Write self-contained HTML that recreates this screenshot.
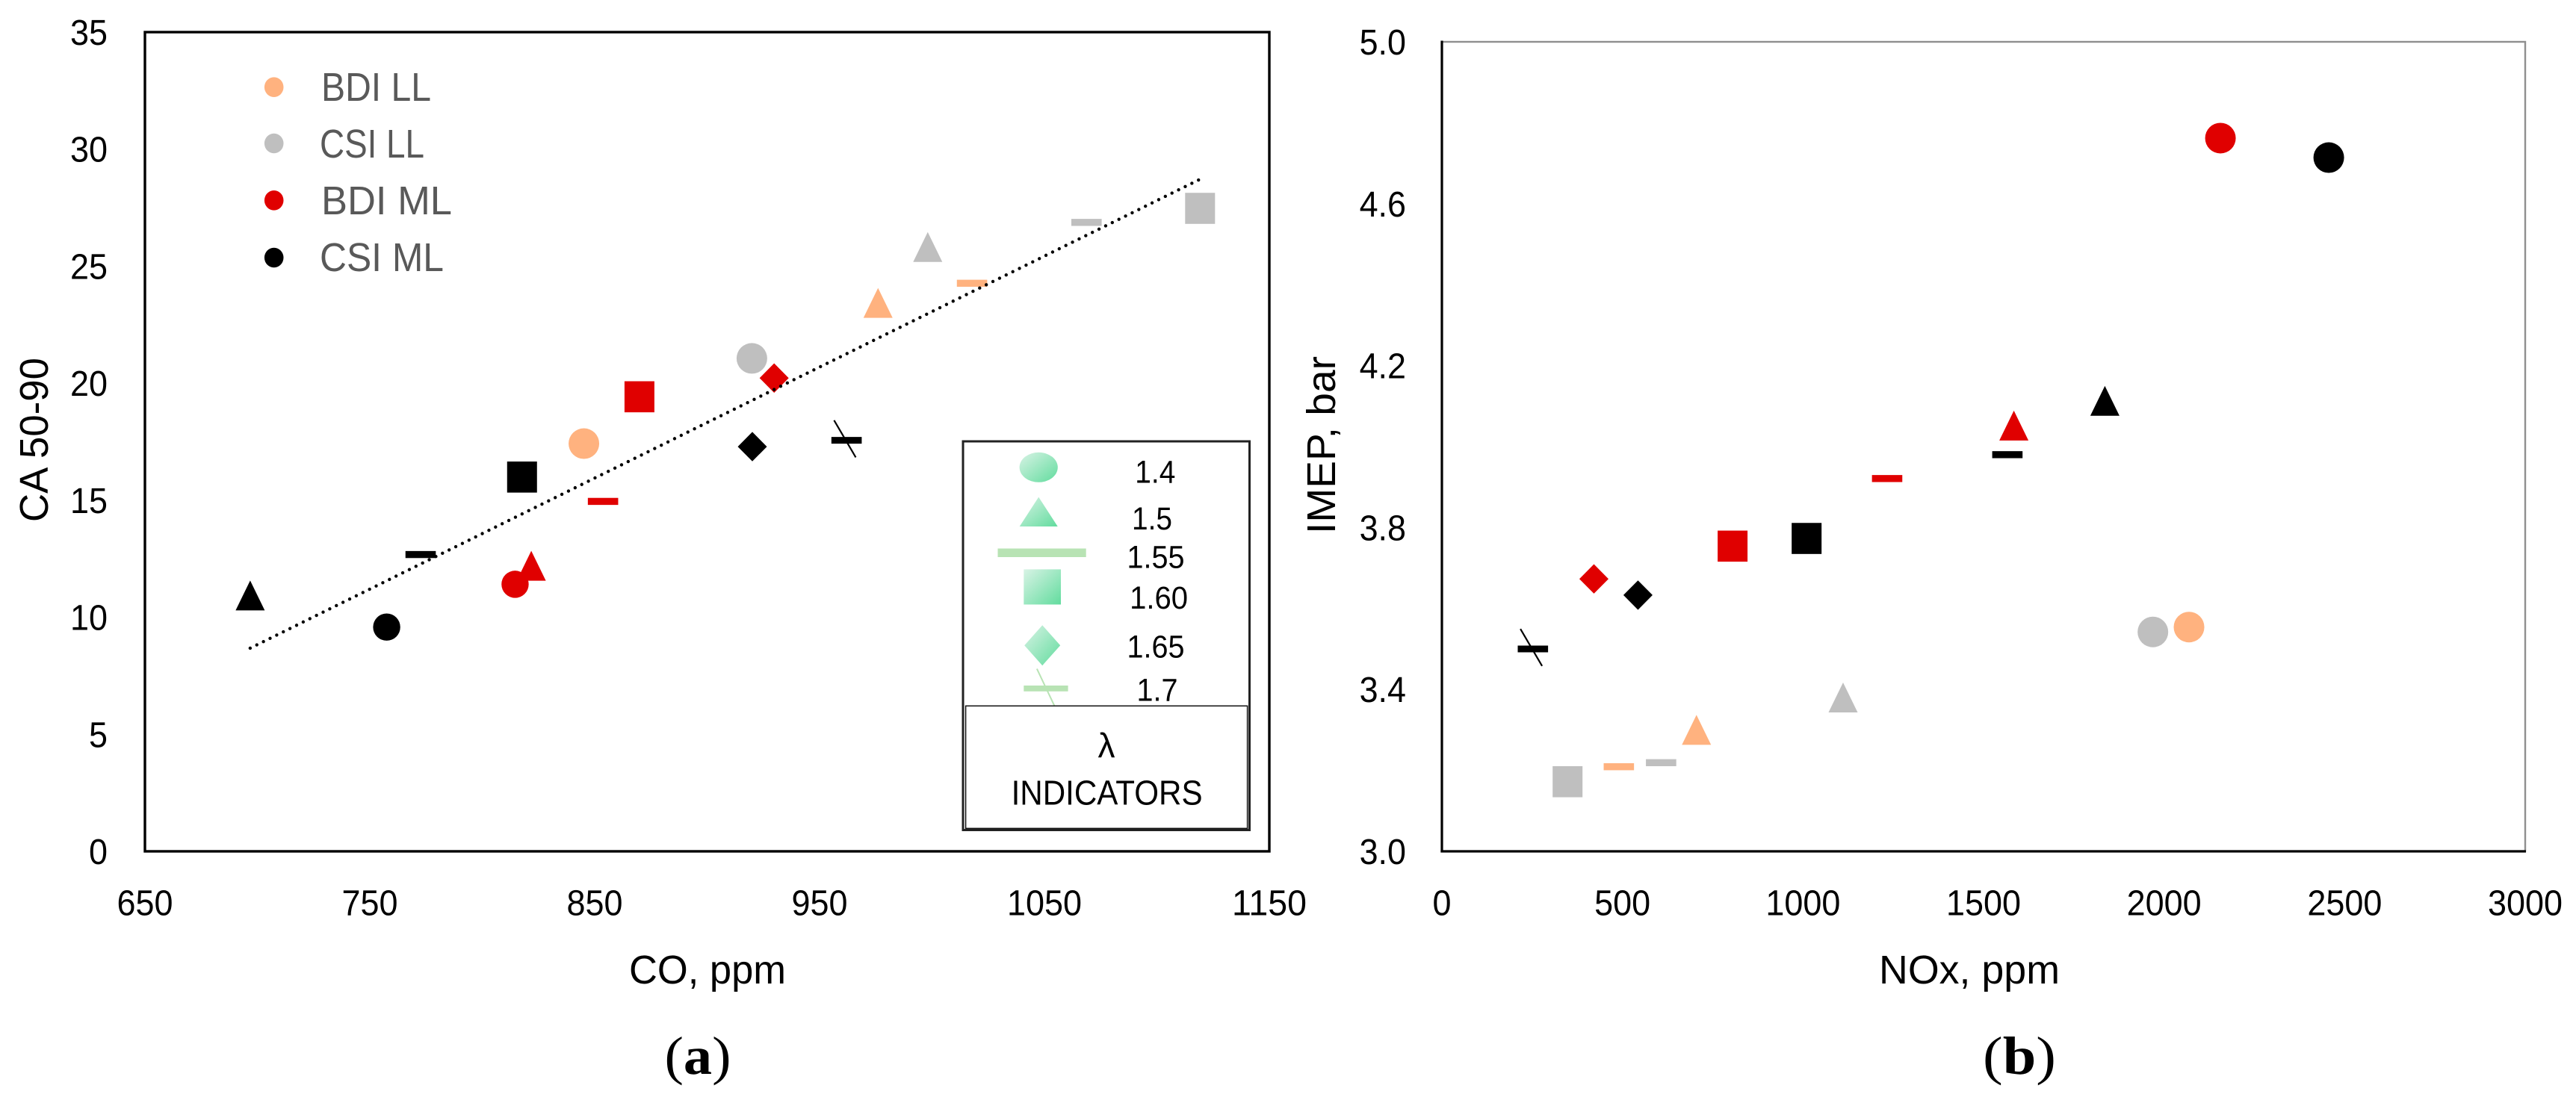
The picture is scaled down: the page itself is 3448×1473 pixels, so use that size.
<!DOCTYPE html>
<html lang="en">
<head>
<meta charset="utf-8">
<title>CA 50-90 vs CO and IMEP vs NOx</title>
<style>
html,body{margin:0;padding:0;background:#fff;}
svg{display:block;}
text{font-family:"Liberation Sans",sans-serif;fill:#000;}
.serif{font-family:"Liberation Serif",serif;}
</style>
</head>
<body>
<svg id="figure" xmlns="http://www.w3.org/2000/svg" width="3448" height="1473" viewBox="0 0 3448 1473">
  <defs>
    <linearGradient id="mint" x1="0" y1="0" x2="1" y2="1">
      <stop offset="0" stop-color="#d8f3e5"/>
      <stop offset="1" stop-color="#62dc9e"/>
    </linearGradient>
  </defs>
  <rect width="3448" height="1473" fill="#fff"/>

  <g id="panelA">
    <rect x="194" y="43" width="1505" height="1097" fill="#fff" stroke="#000" stroke-width="3.4"/>
    <g id="ticksA"></g>
    <line id="trendA" stroke="#000" stroke-width="4.4" stroke-linecap="round" stroke-dasharray="0 9.9"/>
    <g id="marksA"></g>
    <text x="64" y="589" font-size="54" text-anchor="middle" textLength="220" lengthAdjust="spacingAndGlyphs" transform="rotate(-90 64 589)">CA 50-90</text>
    <text x="947" y="1317" font-size="54" text-anchor="middle" textLength="210" lengthAdjust="spacingAndGlyphs">CO, ppm</text>
    <text class="serif" x="934" y="1438" font-size="72" text-anchor="middle" textLength="89" lengthAdjust="spacingAndGlyphs">(<tspan font-weight="bold">a</tspan>)</text>

    <g>
      <ellipse cx="366.7" cy="116.7" rx="12.8" ry="13.3" fill="#ffb27f"/>
      <ellipse cx="366.7" cy="192" rx="12.8" ry="13.3" fill="#bfbfbf"/>
      <ellipse cx="366.7" cy="268.3" rx="12.8" ry="13.3" fill="#e00000"/>
      <ellipse cx="366.7" cy="345" rx="12.8" ry="13.3" fill="#000"/>
      <text x="430" y="135" font-size="54" style="fill:#595959" textLength="147" lengthAdjust="spacingAndGlyphs">BDI LL</text>
      <text x="428" y="211" font-size="54" style="fill:#595959" textLength="140" lengthAdjust="spacingAndGlyphs">CSI LL</text>
      <text x="430" y="287" font-size="54" style="fill:#595959" textLength="175" lengthAdjust="spacingAndGlyphs">BDI ML</text>
      <text x="428" y="363" font-size="54" style="fill:#595959" textLength="166" lengthAdjust="spacingAndGlyphs">CSI ML</text>
    </g>

    <g>
      <rect x="1289" y="591" width="383.5" height="520.5" fill="#fff" stroke="#222" stroke-width="3"/>
      <ellipse cx="1390.2" cy="625.8" rx="25.6" ry="20" fill="url(#mint)"/>
      <polygon points="1390.2,665.6 1415.7,705 1364.7,705" fill="url(#mint)"/>
      <rect x="1335.5" y="734.5" width="118.2" height="11.5" fill="#b8e3b4"/>
      <rect x="1370.3" y="762.4" width="49.7" height="47.1" fill="url(#mint)"/>
      <polygon points="1395.2,837.2 1419.2,864.2 1395.2,891.2 1371.2,864.2" fill="url(#mint)"/>
      <rect x="1370.3" y="918" width="59.3" height="7.8" fill="#b8e3b4"/>
      <line x1="1387.9" y1="895.6" x2="1412.4" y2="947.3" stroke="#b8e3b4" stroke-width="2"/>
      <text x="1546.3" y="646.4" font-size="43" text-anchor="middle" textLength="54" lengthAdjust="spacingAndGlyphs">1.4</text>
      <text x="1542" y="708.8" font-size="43" text-anchor="middle" textLength="54" lengthAdjust="spacingAndGlyphs">1.5</text>
      <text x="1547" y="760.5" font-size="43" text-anchor="middle" textLength="77" lengthAdjust="spacingAndGlyphs">1.55</text>
      <text x="1551.1" y="815" font-size="43" text-anchor="middle" textLength="78" lengthAdjust="spacingAndGlyphs">1.60</text>
      <text x="1547" y="880.7" font-size="43" text-anchor="middle" textLength="77" lengthAdjust="spacingAndGlyphs">1.65</text>
      <text x="1549" y="938.4" font-size="43" text-anchor="middle" textLength="55" lengthAdjust="spacingAndGlyphs">1.7</text>
      <rect x="1292.6" y="945.3" width="377" height="164" fill="#fff" stroke="#111" stroke-width="1.5"/>
      <text x="1481" y="1013.8" font-size="46" text-anchor="middle">λ</text>
      <text x="1481.6" y="1077.4" font-size="46" text-anchor="middle" textLength="256" lengthAdjust="spacingAndGlyphs">INDICATORS</text>
    </g>
  </g>

  <g id="panelB">
    <rect x="1930" y="56" width="1450" height="1084" fill="#fff" stroke="#8f8f8f" stroke-width="2.4"/>
    <line x1="1930" y1="54.5" x2="1930" y2="1141.5" stroke="#000" stroke-width="3.2"/>
    <line x1="1928.4" y1="1140" x2="3381" y2="1140" stroke="#000" stroke-width="3.2"/>
    <g id="ticksB"></g>
    <g id="marksB"></g>
    <text x="1787" y="596" font-size="54" text-anchor="middle" textLength="238" lengthAdjust="spacingAndGlyphs" transform="rotate(-90 1787 596)">IMEP, bar</text>
    <text x="2636" y="1317" font-size="54" text-anchor="middle" textLength="242" lengthAdjust="spacingAndGlyphs">NOx, ppm</text>
    <text class="serif" x="2703" y="1438" font-size="72" text-anchor="middle" textLength="98" lengthAdjust="spacingAndGlyphs">(<tspan font-weight="bold">b</tspan>)</text>
  </g>
</svg>

<script>
// Lambda categories, in the order used by every series array below.
const lambdaLabels = ['1.4', '1.5', '1.55', '1.60', '1.65', '1.7'];

// Tick labels
const xTicksA = ['650', '750', '850', '950', '1050', '1150'];
const yTicksA = ['0', '5', '10', '15', '20', '25', '30', '35'];
const xTicksB = ['0', '500', '1000', '1500', '2000', '2500', '3000'];
const yTicksB = ['3.0', '3.4', '3.8', '4.2', '4.6', '5.0'];

// Panel (a): CO, ppm
const coBdiLL = [845.2, 976.0, 1017.8, null, null, null];
const coCsiLL = [919.9, 998.1, 1068.7, 1119.2, null, null];
const coBdiML = [814.6, 821.8, 853.7, 869.9, 929.8, null];
const coCsiML = [757.5, 696.8, 772.6, 817.7, 920.1, 962.0];

// Panel (a): CA 50-90
const caBdiLL = [17.42, 23.43, 24.27, null, null, null];
const caCsiLL = [21.06, 25.82, 26.87, 27.47, null, null];
const caBdiML = [11.41, 12.20, 14.95, 19.42, 20.22, null];
const caCsiML = [9.58, 10.93, 12.68, 15.99, 17.29, 17.56];

// Panel (a): trend line end points
const trendCo = [696.8, 1118.7];
const trendCa = [8.68, 28.69];

// Panel (b): NOx, ppm
const noxBdiLL = [2069, 705, 490, null, null, null];
const noxCsiLL = [1969, 1111, 607, 348, null, null];
const noxBdiML = [2156, 1584, 1233, 805, 421, null];
const noxCsiML = [2456, 1836, 1566, 1010, 543, 252];

// Panel (b): IMEP, bar
const imepBdiLL = [3.554, 3.300, 3.209, null, null, null];
const imepCsiLL = [3.542, 3.380, 3.219, 3.172, null, null];
const imepBdiML = [4.762, 4.052, 3.921, 3.754, 3.673, null];
const imepCsiML = [4.714, 4.113, 3.980, 3.773, 3.633, 3.500];

const NS = 'http://www.w3.org/2000/svg';
const xA = v => 194 + (v - 650) * (1505 / 500);
const yA = v => 1140 - v * (1097 / 35);
const xB = v => 1930 + v * (1450 / 3000);
const yB = v => 1140 - (v - 3) * (1084 / 2);

function svgEl(tag, parent, attrs) {
  const el = document.createElementNS(NS, tag);
  for (const k in attrs) el.setAttribute(k, attrs[k]);
  parent.appendChild(el);
  return el;
}

function tickWidth(s) {
  let w = 0;
  for (const c of s) w += c === '.' ? 0.252 : 0.507;
  return w * 49.3;
}

function drawXTick(parent, label, x) {
  const el = svgEl('text', parent, { x: x, y: 1225.5, 'font-size': 48, 'text-anchor': 'middle', textLength: tickWidth(label), lengthAdjust: 'spacingAndGlyphs' });
  el.textContent = label;
  
  
}

function drawYTick(parent, label, right, y) {
  const w = tickWidth(label);
  const el = svgEl('text', parent, { x: right - w, y: y + 17, 'font-size': 48, textLength: w, lengthAdjust: 'spacingAndGlyphs' });
  el.textContent = label;
  
  
}

function drawMark(parent, lambdaIndex, cx, cy, color, radius) {
  const g = svgEl('g', parent, { fill: color });
  
  
  if (lambdaIndex === 0) {
    svgEl('circle', g, { cx: cx, cy: cy, r: radius });
  } else if (lambdaIndex === 1) {
    svgEl('polygon', g, { points: [cx, cy - 20, cx + 19.5, cy + 20, cx - 19.5, cy + 20].join(' ') });
  } else if (lambdaIndex === 2) {
    svgEl('rect', g, { x: cx - 20.3, y: cy - 4.7, width: 40.6, height: 9.4 });
  } else if (lambdaIndex === 3) {
    svgEl('rect', g, { x: cx - 20, y: cy - 20.8, width: 40, height: 41.6 });
  } else if (lambdaIndex === 4) {
    svgEl('polygon', g, { points: [cx, cy - 19.7, cx + 19.5, cy, cx, cy + 19.7, cx - 19.5, cy].join(' ') });
  } else {
    svgEl('rect', g, { x: cx - 20.3, y: cy - 4.5, width: 40.6, height: 9 });
    svgEl('line', g, { x1: cx - 16.7, y1: cy - 26.8, x2: cx + 12.3, y2: cy + 22.8, stroke: color, 'stroke-width': 2.2 });
  }
}

function drawSeries(parent, xs, ys, sx, sy, color, radius) {
  xs.forEach((v, i) => {
    if (v === null || ys[i] === null) return;
    drawMark(parent, i, sx(v), sy(ys[i]), color, radius);
  });
}

const ticksA = document.getElementById('ticksA');
const ticksB = document.getElementById('ticksB');
xTicksA.forEach(t => drawXTick(ticksA, t, xA(+t)));
yTicksA.forEach(t => drawYTick(ticksA, t, 144, yA(+t)));
xTicksB.forEach(t => drawXTick(ticksB, t, xB(+t)));
yTicksB.forEach(t => drawYTick(ticksB, t, 1882, yB(+t)));

const trend = document.getElementById('trendA');
trend.setAttribute('x1', xA(trendCo[0]));
trend.setAttribute('y1', yA(trendCa[0]));
trend.setAttribute('x2', xA(trendCo[1]));
trend.setAttribute('y2', yA(trendCa[1]));

const marksA = document.getElementById('marksA');
drawSeries(marksA, coBdiLL, caBdiLL, xA, yA, '#ffb27f', 20.5);
drawSeries(marksA, coCsiLL, caCsiLL, xA, yA, '#bfbfbf', 20.5);
drawSeries(marksA, coBdiML, caBdiML, xA, yA, '#e00000', 18.2);
drawSeries(marksA, coCsiML, caCsiML, xA, yA, '#000000', 18.2);
document.getElementById('panelA').appendChild(trend);

const marksB = document.getElementById('marksB');
drawSeries(marksB, noxBdiLL, imepBdiLL, xB, yB, '#ffb27f', 20.5);
drawSeries(marksB, noxCsiLL, imepCsiLL, xB, yB, '#bfbfbf', 20.5);
drawSeries(marksB, noxBdiML, imepBdiML, xB, yB, '#e00000', 20.5);
drawSeries(marksB, noxCsiML, imepCsiML, xB, yB, '#000000', 20.5);
</script>
</body>
</html>
